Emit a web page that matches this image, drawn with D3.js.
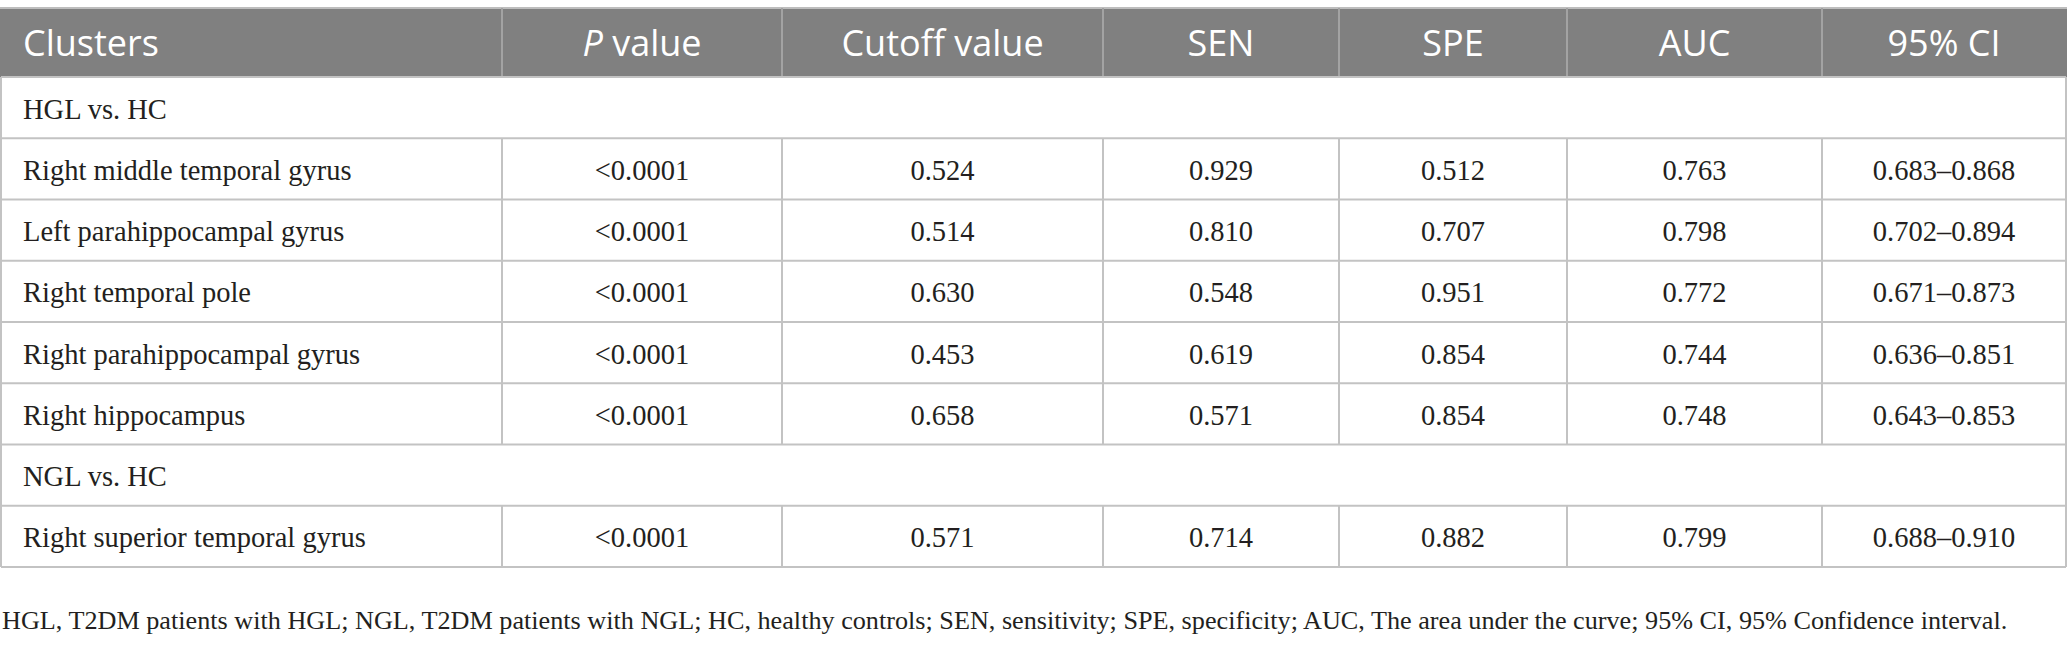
<!DOCTYPE html>
<html>
<head>
  <meta charset="utf-8">
  <script src="https://d3js.org/d3.v7.min.js"></script>
  <style>
    html, body { margin: 0; padding: 0; background: #fff; }
    svg { display: block; }
  </style>
</head>
<body>
<svg id="table"></svg>
<script>
  // column headers (P is italic in the original)
  const headers = ["Clusters", "P value", "Cutoff value", "SEN", "SPE", "AUC", "95% CI"];

  // rows: group rows carry only a label
  const groups = ["HGL vs. HC", "NGL vs. HC"];
  const clusters = [
    "Right middle temporal gyrus",
    "Left parahippocampal gyrus",
    "Right temporal pole",
    "Right parahippocampal gyrus",
    "Right hippocampus",
    "Right superior temporal gyrus"
  ];
  const clusterGroup = [0, 0, 0, 0, 0, 1];
  const pValues = ["<0.0001", "<0.0001", "<0.0001", "<0.0001", "<0.0001", "<0.0001"];
  const cutoff = ["0.524", "0.514", "0.630", "0.453", "0.658", "0.571"];
  const sen = ["0.929", "0.810", "0.548", "0.619", "0.571", "0.714"];
  const spe = ["0.512", "0.707", "0.951", "0.854", "0.854", "0.882"];
  const auc = ["0.763", "0.798", "0.772", "0.744", "0.748", "0.799"];
  const ci = ["0.683–0.868", "0.702–0.894", "0.671–0.873", "0.636–0.851", "0.643–0.853", "0.688–0.910"];

  const footnote = "HGL, T2DM patients with HGL; NGL, T2DM patients with NGL; HC, healthy controls; SEN, sensitivity; SPE, specificity; AUC, The area under the curve; 95% CI, 95% Confidence interval.";

  // layout
  const W = 2067, H = 649;
  const colEdges = [1, 502, 782, 1103, 1339, 1567, 1822, 2066];
  const headTop = 8, headBottom = 77, bodyBottom = 567;
  const padLeft = 22;
  const lineColor = "#c3c3c3";
  const headDivider = "#a3a3a3";
  const textColor = "#231f20";

  // build the row list from the arrays
  const rows = [];
  groups.forEach((g, gi) => {
    rows.push({ group: true, label: g });
    clusters.forEach((c, i) => {
      if (clusterGroup[i] === gi) {
        rows.push({ group: false, cells: [c, pValues[i], cutoff[i], sen[i], spe[i], auc[i], ci[i]] });
      }
    });
  });

  const svg = d3.select("#table").attr("width", W).attr("height", H);

  const x = d3.scaleOrdinal().domain(d3.range(colEdges.length)).range(colEdges);
  const y = d3.scaleBand().domain(d3.range(rows.length)).range([headBottom, bodyBottom]);

  // header
  svg.append("rect")
    .attr("x", colEdges[0] - 1).attr("y", headTop)
    .attr("width", colEdges[7] - colEdges[0] + 2).attr("height", headBottom - headTop)
    .attr("fill", "#808080");

  svg.append("line")
    .attr("x1", 0).attr("x2", W).attr("y1", headTop).attr("y2", headTop)
    .attr("stroke", "#bdbdbd").attr("stroke-width", 2);

  svg.append("g").selectAll("line")
    .data(d3.range(1, headers.length))
    .join("line")
    .attr("x1", i => x(i)).attr("x2", i => x(i))
    .attr("y1", headTop).attr("y2", headBottom)
    .attr("stroke", headDivider).attr("stroke-width", 2);

  const headText = svg.append("g")
    .attr("font-family", "'Open Sans', Lato, sans-serif")
    .attr("font-size", 36)
    .attr("fill", "#fff");

  headers.forEach((h, i) => {
    const t = headText.append("text")
      .attr("y", (headTop + headBottom) / 2 + 13);
    if (i === 0) {
      t.attr("x", x(0) + padLeft).attr("text-anchor", "start");
    } else {
      t.attr("x", (x(i) + x(i + 1)) / 2).attr("text-anchor", "middle");
    }
    if (h.startsWith("P ")) {
      t.append("tspan").attr("font-style", "italic").text("P");
      t.append("tspan").text(h.slice(1));
    } else {
      t.text(h);
    }
  });

  // body grid
  const grid = svg.append("g").attr("stroke", lineColor).attr("stroke-width", 2);

  // horizontal lines
  grid.selectAll("line.h")
    .data(d3.range(rows.length + 1))
    .join("line")
    .attr("class", "h")
    .attr("x1", colEdges[0]).attr("x2", colEdges[7])
    .attr("y1", i => i < rows.length ? y(i) : bodyBottom)
    .attr("y2", i => i < rows.length ? y(i) : bodyBottom);

  // outer vertical borders
  [0, 7].forEach(c => {
    grid.append("line")
      .attr("x1", x(c)).attr("x2", x(c))
      .attr("y1", headBottom).attr("y2", bodyBottom);
  });

  // inner vertical lines, only on data rows
  rows.forEach((r, ri) => {
    if (r.group) return;
    grid.append("g").selectAll("line")
      .data(d3.range(1, headers.length))
      .join("line")
      .attr("x1", i => x(i)).attr("x2", i => x(i))
      .attr("y1", y(ri)).attr("y2", y(ri) + y.bandwidth());
  });

  // body text
  const body = svg.append("g")
    .attr("font-family", "'Liberation Serif', 'Times New Roman', serif")
    .attr("font-size", 28.5)
    .attr("fill", textColor);

  rows.forEach((r, ri) => {
    const cy = y(ri) + y.bandwidth() / 2 + 11;
    if (r.group) {
      body.append("text").attr("x", x(0) + padLeft).attr("y", cy).text(r.label);
      return;
    }
    r.cells.forEach((v, ci) => {
      const t = body.append("text").attr("y", cy).text(v);
      if (ci === 0) t.attr("x", x(0) + padLeft);
      else t.attr("x", (x(ci) + x(ci + 1)) / 2).attr("text-anchor", "middle");
    });
  });

  // footnote
  svg.append("text")
    .attr("x", 2).attr("y", 629)
    .attr("font-family", "'Liberation Serif', 'Times New Roman', serif")
    .attr("font-size", 26.2)
    .attr("fill", textColor)
    .text(footnote);
</script>
</body>
</html>
